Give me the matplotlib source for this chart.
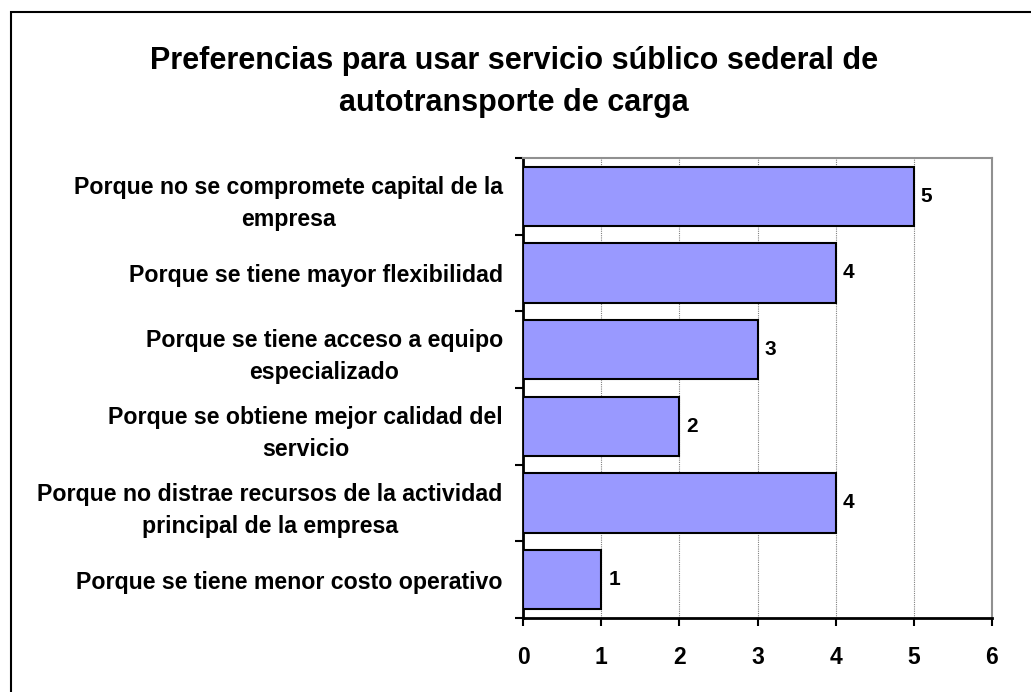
import matplotlib.pyplot as plt
import numpy as np
from matplotlib.patches import Rectangle

plt.rcParams['font.family'] = ['Liberation Sans', 'DejaVu Sans']

titulo = "Preferencias para usar servicio súblico sederal de\nautotransporte de carga"
razones = [
    "Porque no se compromete capital de la\nempresa",
    "Porque se tiene mayor flexibilidad",
    "Porque se tiene acceso a equipo\nespecializado",
    "Porque se obtiene mejor calidad del\nservicio",
    "Porque no distrae recursos de la actividad\nprincipal de la empresa",
    "Porque se tiene menor costo operativo",
]
valores = [5, 4, 3, 2, 4, 1]
xticks = [0, 1, 2, 3, 4, 5, 6]

fig = plt.figure(figsize=(10.31, 6.92), dpi=100)
ax = fig.add_axes([523 / 1031, 1 - 618 / 692, (992 - 523) / 1031, (618 - 158) / 692])

pos = np.arange(len(razones))
ax.barh(pos, valores, height=0.77, color="#9999FF", edgecolor="black", linewidth=1.5, zorder=3)
for p, v in zip(pos, valores):
    ax.text(v + 0.09, p, str(v), va="center", ha="left", fontsize=15, fontweight="bold")

ax.set_ylim(len(razones) - 0.5, -0.5)
ax.set_xlim(0, 6)
ax.set_xticks(xticks)
ax.set_xticklabels([str(t) for t in xticks], fontsize=16.5, fontweight="bold")
ax.set_yticks(pos)
ax.set_yticklabels(razones, fontsize=16.7, fontweight="bold", multialignment="center",
                   linespacing=1.5)
ax.set_yticks(np.arange(-0.5, len(razones), 1), minor=True)
ax.tick_params(axis="y", which="major", length=0, pad=14.5)
ax.tick_params(axis="y", which="minor", length=6, width=1.5, direction="out")
ax.tick_params(axis="x", length=6, width=1.5, direction="out", pad=14)

ax.grid(axis="x", color="#808080", linestyle=(0, (1, 1)), linewidth=0.8, zorder=0)
for s in ["left", "bottom"]:
    ax.spines[s].set_linewidth(2)
    ax.spines[s].set_color("black")
for s in ["top", "right"]:
    ax.spines[s].set_linewidth(1.5)
    ax.spines[s].set_color("#909090")

fig.text(514 / 1031, 1 - 82 / 692, titulo, ha="center", va="center",
         fontsize=22, fontweight="bold", linespacing=1.5)

fig.patches.append(Rectangle((11 / 1031, -0.1), 1.2, 1.1 - 12 / 692, transform=fig.transFigure,
                             fill=False, edgecolor="black", linewidth=1.5))

fig.savefig("out.png", dpi=100)
